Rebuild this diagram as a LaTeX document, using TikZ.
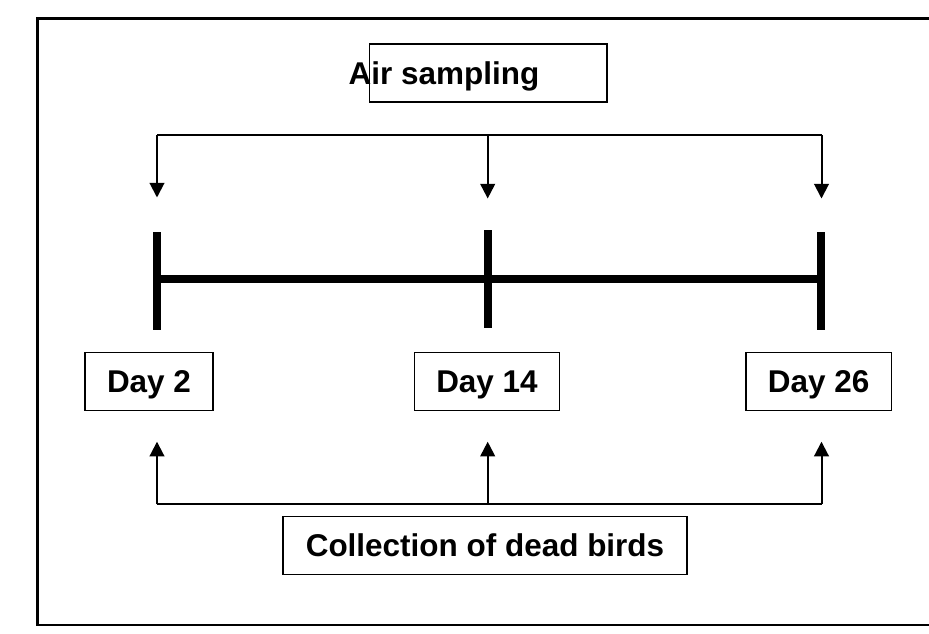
\documentclass[tikz,border=0pt]{standalone}
\usepackage{fontspec}
\setmainfont{Liberation Sans}
\usetikzlibrary{arrows.meta, positioning}

\tikzset{
  labeltext/.style={font=\bfseries\fontsize{23.6}{28}\selectfont, inner sep=0pt, text height=17pt, text depth=0pt},
  labelbox/.style={labeltext, draw, line width=1.1pt, inner xsep=16.5pt, minimum height=43.5pt},
  tick/.style={line width=6pt},
}

\begin{document}
\begin{tikzpicture}[x=0.75pt, y=-0.75pt, >={Triangle[length=11pt, width=11pt]}, line width=1.5pt]
  \useasboundingbox (0,0) rectangle (929,633);
  \draw[line width=1.6pt] (929,18.5) -- (37.5,18.5) -- (37.5,625) -- (929,625);

  \node[labelbox, minimum width=178pt] (airbox) at (488.3,73.2) {};
  \node[labeltext] (airtext) at (444,73.3) {Air sampling};

  \coordinate (t2) at (157,278.5);
  \coordinate (t14) at (487.7,278.5);
  \coordinate (t26) at (821,278.5);
  \draw[tick] (t2) -- (t26);
  \draw[tick] (t2) ++(0,-46.5) -- ++(0,97.5);
  \draw[tick] (t14) ++(0,-48.5) -- ++(0,98);
  \draw[tick] (t26) ++(0,-46.5) -- ++(0,97.5);

  \coordinate (topl) at (157,135);
  \coordinate (topm) at (487.7,135);
  \coordinate (topr) at (821.5,135);
  \coordinate (tipl) at (157,197.5);
  \coordinate (tipm) at (487.7,198.5);
  \coordinate (tipr) at (821.5,198.5);
  \draw (topl) -- (topr);
  \draw[->] (topl) -- (tipl);
  \draw[->] (topm) -- (tipm);
  \draw[->] (topr) -- (tipr);

  \node[labelbox] (day2) at (149,381.3) {Day 2};
  \node[labelbox] (day14) at (487,381.3) {Day 14};
  \node[labelbox] (day26) at (818.7,381.3) {Day 26};

  \coordinate (botl) at (157,504.3);
  \coordinate (botm) at (487.7,504.3);
  \coordinate (botr) at (821.5,504.3);
  \coordinate (upl) at (157,441.7);
  \coordinate (upm) at (487.7,441.7);
  \coordinate (upr) at (821.5,441.7);
  \draw (botl) -- (botr);
  \draw[->] (botl) -- (upl);
  \draw[->] (botm) -- (upm);
  \draw[->] (botr) -- (upr);

  \node[labelbox, inner xsep=17pt] (collect) at (485,545.5) {Collection of dead birds};
\end{tikzpicture}
\end{document}
